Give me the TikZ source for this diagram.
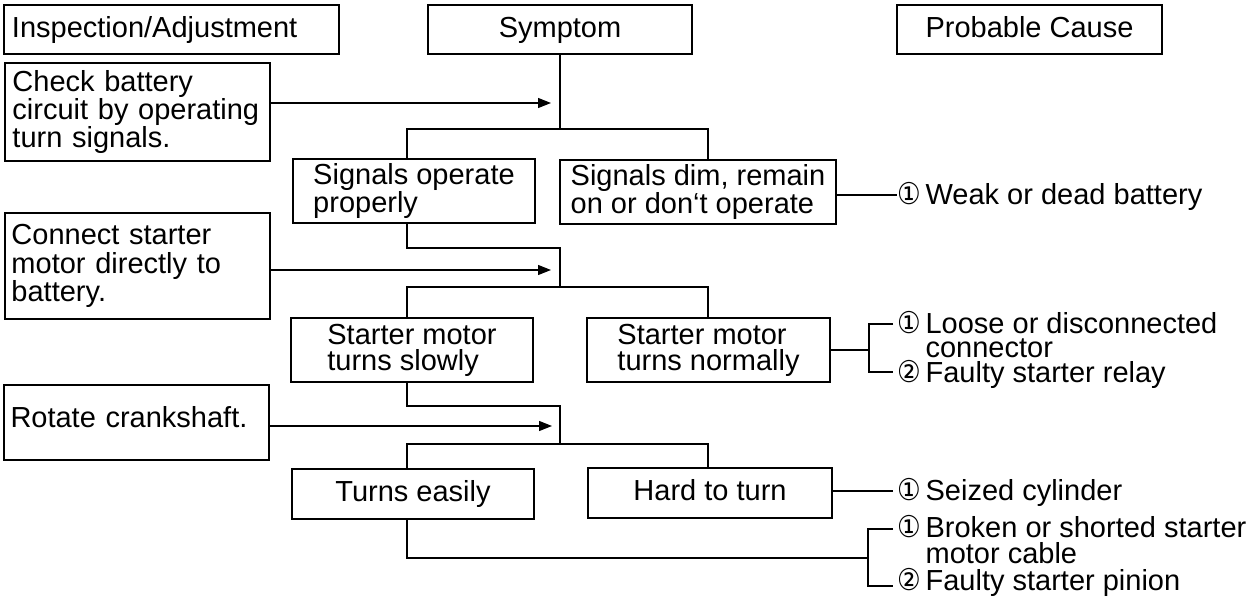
\documentclass[tikz,border=0pt]{standalone}
\usepackage{fontspec}
\setmainfont{Liberation Sans}
\newfontfamily\cfont{DejaVu Sans}
\usetikzlibrary{arrows.meta}
\hyphenpenalty=10000
\exhyphenpenalty=10000
\newcommand{\cnum}[1]{\makebox[28pt][l]{\scalebox{0.88}[1]{\cfont\fontsize{30}{30}\selectfont #1}}}
\begin{document}
\begin{tikzpicture}[x=1pt,y=-1pt,
  font=\fontsize{29}{26}\selectfont,
  line width=1.2pt,
  box/.style={draw, rectangle, inner sep=0pt, align=left},
  one/.style={text height=21pt, text depth=6pt},
  cause/.style={anchor=base west, inner sep=0pt},
  arr/.style={-{Triangle[length=13pt,width=10pt]}}]
\useasboundingbox (0,0) rectangle (1260,600);
% headers
\node[box, one, minimum width=335pt, minimum height=49pt, text width=319pt, inner xsep=8pt] (hi) at (171.5,29.5) {Inspection/Adjustment};
\node[box, one, minimum width=264pt, minimum height=49pt] (hs) at (560,29.5) {Symptom};
\node[box, one, minimum width=265pt, minimum height=49pt] (hp) at (1029.5,29.5) {Probable Cause};
% inspection boxes
\node[box, minimum width=265pt, minimum height=98pt, text width=250pt, inner xsep=7.5pt, font=\fontsize{29}{27}\selectfont] (I1) at (137.5,112) {Check battery\\circuit by operating\\turn signals.};
\node[box, minimum width=265pt, minimum height=106pt, text width=252pt, inner xsep=6.5pt, font=\fontsize{29}{28.5}\selectfont] (I2) at (137.5,266) {Connect starter\\motor directly to\\battery.};
\node[box, minimum width=265pt, minimum height=75pt, text width=252pt, inner xsep=6.5pt, text height=21pt, text depth=12pt] (I3) at (136.5,422.5) {Rotate crankshaft.};
% symptom boxes
\node[box, minimum width=242pt, minimum height=64pt] (S1) at (414,191) {Signals operate\\properly};
\node[box, minimum width=276pt, minimum height=64pt] (S2) at (698,192) {Signals dim, remain\\on or don‘t operate};
\node[box, minimum width=242pt, minimum height=64pt] (S3) at (412,350) {Starter motor\\turns slowly};
\node[box, minimum width=243pt, minimum height=64pt] (S4) at (708.5,350) {Starter motor\\turns normally};
\node[box, one, minimum width=242pt, minimum height=50pt] (S5) at (413,494) {Turns easily};
\node[box, one, minimum width=244pt, minimum height=50pt] (S6) at (710,493) {Hard to turn};
% level 1 connectors
\coordinate (j1) at (560,129);
\coordinate (l1) at (407,129);
\coordinate (r1) at (708,129);
\draw (hs.south) -- (j1);
\draw (l1 |- S1.north) -- (l1) -- (r1) -- (r1 |- S2.north);
\coordinate (t1) at (551,103);
\draw[arr] (I1.east |- t1) -- (t1);
% level 2 connectors
\coordinate (k2) at (407,248);
\coordinate (j2) at (560,248);
\coordinate (m2) at (560,287);
\coordinate (l2) at (407,287);
\coordinate (r2) at (708,287);
\draw (S1.south -| k2) -- (k2) -- (j2) -- (m2);
\draw (l2 |- S3.north) -- (l2) -- (r2) -- (r2 |- S4.north);
\coordinate (t2) at (551,270);
\draw[arr] (I2.east |- t2) -- (t2);
% level 3 connectors
\coordinate (k3) at (407,406);
\coordinate (j3) at (560,406);
\coordinate (m3) at (560,444);
\coordinate (l3) at (407,444);
\coordinate (r3) at (708,444);
\draw (S3.south -| k3) -- (k3) -- (j3) -- (m3);
\draw (l3 |- S5.north) -- (l3) -- (r3) -- (r3 |- S6.north);
\coordinate (t3) at (552,426);
\draw[arr] (I3.east |- t3) -- (t3);
% causes
\coordinate (w1) at (897,195);
\draw (S2.east |- w1) -- (w1);
\node[cause] (c1) at (897,204) {\cnum{①}Weak or dead battery};
\coordinate (b2) at (869,350);
\coordinate (b2t) at (869,324);
\coordinate (b2b) at (869,372);
\coordinate (e2t) at (893,324);
\coordinate (e2b) at (893,372);
\draw (S4.east |- b2) -- (b2);
\draw (e2t) -- (b2t) -- (b2b) -- (e2b);
\node[cause, text depth=0pt] (c2a) at (897,333) {\cnum{①}Loose or disconnected};
\node[cause, text height=16pt, text depth=0pt] (c2b) at (925,357) {connector};
\node[cause, text height=21pt] (c2c) at (897,382) {\cnum{②}Faulty starter relay};
\coordinate (w3) at (893,491);
\draw (S6.east |- w3) -- (w3);
\node[cause] (c3) at (897,500) {\cnum{①}Seized cylinder};
\coordinate (k4) at (407,558);
\coordinate (b4) at (868,558);
\coordinate (b4t) at (868,529);
\coordinate (b4b) at (868,586);
\coordinate (e4t) at (893,529);
\coordinate (e4b) at (893,586);
\draw (S5.south -| k4) -- (k4) -- (b4);
\draw (e4t) -- (b4t) -- (b4b) -- (e4b);
\node[cause, text height=21pt, text depth=0pt] (c4a) at (897,537) {\cnum{①}Broken or shorted starter};
\node[cause, text height=21pt, text depth=0pt] (c4b) at (925,563) {motor cable};
\node[cause, text height=21pt] (c4c) at (897,590) {\cnum{②}Faulty starter pinion};
\end{tikzpicture}
\end{document}
